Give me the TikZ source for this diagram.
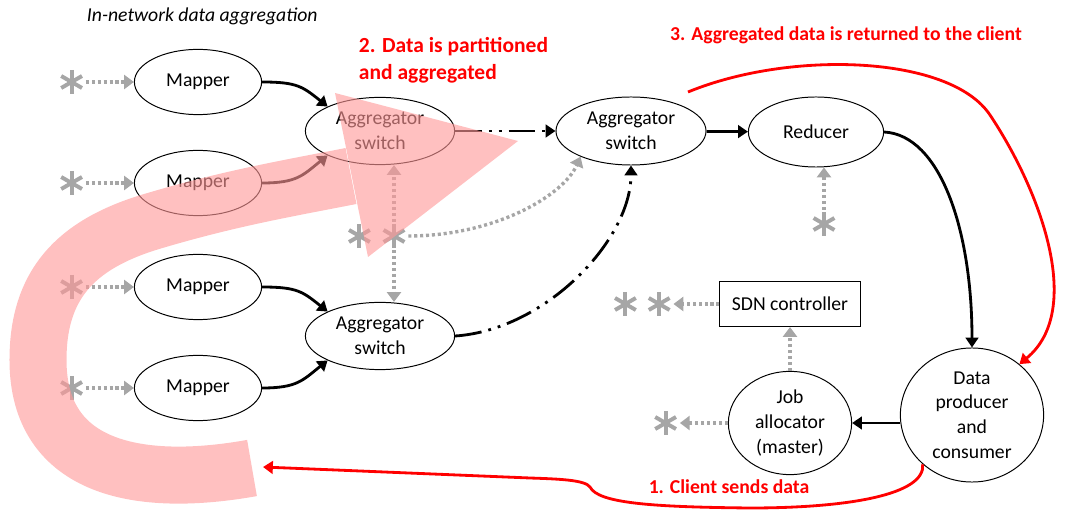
\documentclass[tikz,border=0pt]{standalone}
\usepackage{fontspec}
\setmainfont{Carlito}
\usepackage{tikz}
\usetikzlibrary{shapes.geometric,arrows.meta,positioning,calc}
\definecolor{astgray}{HTML}{A6A6A6}
\definecolor{bandpink}{HTML}{FF9999}

\begin{document}
\begin{tikzpicture}[
    x=0.025cm, y=-0.025cm,
    proc/.style={
       ellipse,
       draw=black,
       line width=0.7pt,
       inner sep=0pt,
       align=center,
       font=\fontsize{14}{17.5}\selectfont},
    ctrlbox/.style={
       rectangle,
       draw=black,
       line width=0.7pt,
       inner sep=0pt,
       minimum width=3.5cm,
       minimum height=1.13cm,
       font=\fontsize{14}{17.5}\selectfont},
    astk/.style={
       circle,
       inner sep=0pt,
       minimum size=0.7cm,
       path picture={
         \foreach \a in {90,30,150}
           \draw[line width=2.8pt, astgray]
             ($(path picture bounding box.center)+(\a:0.3cm)$) --
             ($(path picture bounding box.center)+(\a+180:0.3cm)$);}},
    redlbl/.style={text=red, font=\fontsize{14}{18.5}\selectfont\bfseries},
    blkarrow/.style={line width=2pt, -{Triangle[length=7pt,width=9pt]}},
    ddarrow/.style={line width=2pt,
       dash pattern=on 19pt off 5pt on 2pt off 5pt on 2pt off 5pt,
       -{Triangle[length=7pt,width=9pt]}},
    dotarrow/.style={draw=astgray, line width=2.4pt,
       dash pattern=on 2.2pt off 2pt,
       -{Triangle[length=7pt,width=10pt]}},
    redarrow/.style={draw=red, line width=2pt, -{Triangle[length=7pt,width=9pt]}}
    ]
    \useasboundingbox (0,0) rectangle (1067,511);

    \node[font=\fontsize{14}{17}\selectfont\itshape, anchor=west] (ttl) at (82,16) {In-network data aggregation};

    \node[proc, minimum width=3.18cm, minimum height=1.63cm] (m1) at (198,82) {Mapper};
    \node[proc, minimum width=3.18cm, minimum height=1.63cm] (m2) at (198,183) {Mapper};
    \node[proc, minimum width=3.18cm, minimum height=1.63cm] (m3) at (198,287) {Mapper};
    \node[proc, minimum width=3.18cm, minimum height=1.63cm] (m4) at (198,388) {Mapper};
    \node[proc, minimum width=3.73cm, minimum height=1.68cm] (a1) at (380,131) {Aggregator\\switch};
    \node[proc, minimum width=3.73cm, minimum height=1.68cm] (a2) at (380,336) {Aggregator\\switch};
    \node[proc, minimum width=3.75cm, minimum height=1.70cm] (a3) at (631,131) {Aggregator\\switch};
    \node[proc, minimum width=3.38cm, minimum height=1.75cm] (r) at (816,132) {Reducer};
    \node[ctrlbox] (sdn) at (790,304) {SDN controller};
    \node[proc, minimum width=3.08cm, minimum height=2.58cm] (j) at (790,423) {Job\\allocator\\(master)};
    \node[proc, minimum width=3.58cm, minimum height=3.35cm] (d) at (972,415) {Data\\producer\\and\\consumer};

    \node[astk, left=1.2cm of m1] (ast1) {};
    \node[astk, left=1.2cm of m2] (ast2) {};
    \node[astk, left=1.2cm of m3] (ast3) {};
    \node[astk, left=1.2cm of m4] (ast4) {};
    \node[astk] (ast6) at (394,236) {};
    \node[astk, left=0.15cm of ast6] (ast5) {};
    \node[astk] (ast7) at (824,224) {};
    \node[astk, left=1.15cm of sdn] (ast9) {};
    \node[astk, left=0.13cm of ast9] (ast8) {};
    \node[astk, left=1.2cm of j] (ast10) {};

    \node[redlbl, font=\fontsize{15.3}{19}\selectfont\bfseries, anchor=west, align=left] (lbl2) at (354,60) {2. Data is partitioned\\and aggregated};
    \node[redlbl] (lbl3) at (846,35) {3. Aggregated data is returned to the client};
    \node[redlbl] (lbl1) at (729,487) {1. Client sends data};

  \foreach \i/\j/\dy in {m1/a1.155/-20, m2/a1.205/20, m3/a2.155/-20, m4/a2.205/20}
     \draw[blkarrow] (\i.east) .. controls +(35,0) and +(-25,\dy) .. (\j);

  \foreach \i in {1,...,4}
     \draw[dotarrow] (ast\i) -- (m\i);

    \draw[ddarrow] (a1) -- (a3);
    \draw[ddarrow] (a2.east) .. controls +(90,-6) and +(0,75) .. (a3.south);
    \draw[blkarrow] (a3) -- (r);
    \draw[blkarrow] (r.east) .. controls +(56,3) and +(0,-118) .. (d.north);
    \draw[blkarrow] (d.west |- j) -- (j.east);

    \draw[dotarrow] (ast6) -- (ast6 |- a1.south);
    \draw[dotarrow] (ast6) -- (ast6 |- a2.north);
    \draw[dotarrow] (ast6.east) .. controls +(85,0) and +(-18,40) .. (a3.207);
    \draw[dotarrow] (ast7) -- (ast7 |- r.south);
    \draw[dotarrow] (sdn) -- (ast9);
    \draw[dotarrow] (j) -- (sdn);
    \draw[dotarrow] (j) -- (ast10);

    % red flows: client out, result back
    \coordinate (ret) at (688,92);
    \coordinate (snd) at (263,467);
    \draw[redarrow] (ret) .. controls (790,50) and (950,55) .. (990,115)
       .. controls (1040,190) and (1085,310) .. (d.47);
    \draw[redarrow] (d.225) .. controls +(3,30) and +(100,0) .. (750,508)
       .. controls (650,507) and (598,503) .. (590,487)
       .. controls (585,480) and (560,479) .. (530,478) -- (snd);

    \fill[bandpink, opacity=0.62] (335,93) -- (518,141) -- (368,257) -- cycle;
    \draw[bandpink, opacity=0.62, line width=1.425cm] (252,468)
       .. controls (140,488) and (38,470) .. (38,360)
       .. controls (38,285) and (75,245) .. (150,222)
       .. controls (230,198) and (290,188) .. (351,176);
  \end{tikzpicture}
\end{document}
